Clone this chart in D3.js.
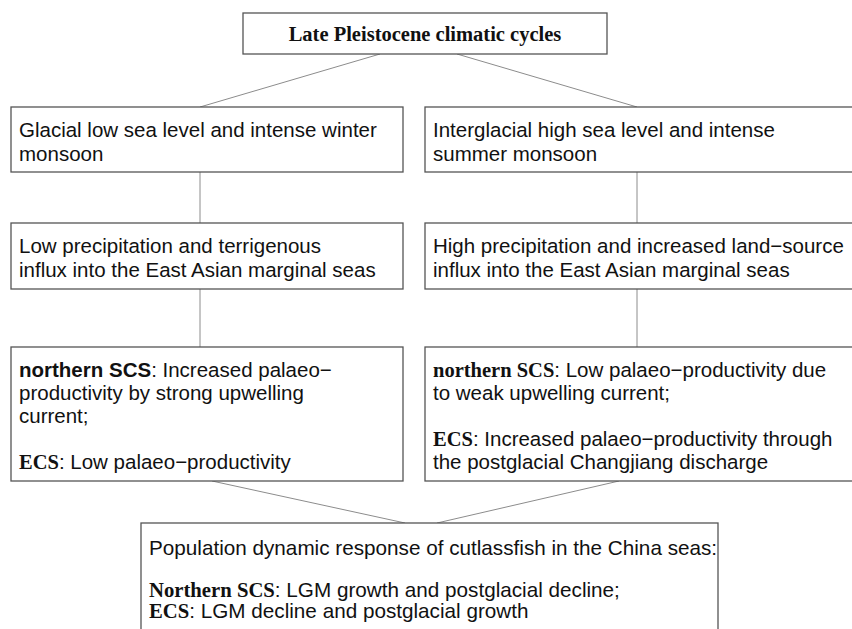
<!DOCTYPE html>
<html>
<head>
  <meta charset="utf-8">
  <script src="https://d3js.org/d3.v7.min.js"></script>
  <style>
    body { margin: 0; background: #fff; }
    .box { fill: #fff; stroke: #555; stroke-width: 1.3px; }
    .link { fill: none; stroke: #8c8c8c; stroke-width: 1px; }
    text { font-family: "Liberation Sans", Arial, sans-serif; font-size: 20.5px; fill: #111; }
    .b-serif { font-family: "Liberation Serif", "Times New Roman", serif; font-weight: bold; }
    .b-sans { font-weight: bold; }
  </style>
</head>
<body>
<div id="chart"></div>
<script>
// boxes of the scheme (** = bold serif, __ = bold sans)
var nodeIds = ["top", "glacial", "interglacial", "lowPrec", "highPrec", "scsLow", "scsHigh", "response"];
var nodeText = [
  ["**Late Pleistocene climatic cycles**"],
  ["Glacial low sea level and intense winter", "monsoon"],
  ["Interglacial high sea level and intense", "summer monsoon"],
  ["Low precipitation and terrigenous", "influx into the East Asian marginal seas"],
  ["High precipitation and increased land\u2212source", "influx into the East Asian marginal seas"],
  ["__northern SCS__: Increased palaeo\u2212", "productivity by strong upwelling", "current;", "", "**ECS**: Low palaeo\u2212productivity"],
  ["**northern SCS**: Low palaeo\u2212productivity due", "to weak upwelling current;", "", "**ECS**: Increased palaeo\u2212productivity through", "the postglacial Changjiang discharge"],
  ["Population dynamic response of cutlassfish in the China seas:", "", "**Northern SCS**: LGM growth and postglacial decline;", "**ECS**: LGM decline and postglacial growth"]
];
var linkSource = ["top", "top", "glacial", "interglacial", "lowPrec", "highPrec", "scsLow", "scsHigh"];
var linkTarget = ["glacial", "interglacial", "lowPrec", "highPrec", "scsLow", "scsHigh", "response", "response"];

// layout
var width = 852, height = 629;
var nodeRow = [0, 1, 1, 2, 2, 3, 3, 4];
var nodeCol = ["title", "left", "right", "left", "right", "left", "right", "bottom"];
var colX = d3.scaleOrdinal().domain(["title", "left", "right", "bottom"])
  .range([[243, 607], [11, 403], [425, 870], [141, 718]]);
var rowY = d3.scaleOrdinal().domain([0, 1, 2, 3, 4])
  .range([[13, 54], [107, 172], [223, 289], [347, 481], [523, 660]]);
var rowBase = d3.scaleOrdinal().domain([0, 1, 2, 3, 4]).range([41, 137, 253, 377, 555]);
var rowLead = d3.scaleOrdinal().domain([0, 1, 2, 3, 4]).range([0, 24, 24, 23, 21]);
// x where each link leaves its source and enters its target
var linkX = [[380, 200], [457, 637], [200, 200], [637, 637], [200, 200], [637, 637], [212, 405], [619, 437]];

var svg = d3.select("#chart").append("svg")
  .attr("width", width).attr("height", height);

var nodes = nodeIds.map(function(id, i) {
  var cx = colX(nodeCol[i]), ry = rowY(nodeRow[i]);
  return { id: id, lines: nodeText[i], row: nodeRow[i], x0: cx[0], x1: cx[1], y0: ry[0], y1: ry[1] };
});
var byId = {};
nodes.forEach(function(d) { byId[d.id] = d; });

svg.selectAll(".link")
  .data(linkSource)
  .enter().append("line")
  .attr("class", "link")
  .attr("x1", function(d, i) { return linkX[i][0]; })
  .attr("y1", function(d) { return byId[d].y1; })
  .attr("x2", function(d, i) { return linkX[i][1]; })
  .attr("y2", function(d, i) { return byId[linkTarget[i]].y0; });

var g = svg.selectAll(".node")
  .data(nodes)
  .enter().append("g")
  .attr("class", "node");

g.append("rect")
  .attr("class", "box")
  .attr("x", function(d) { return d.x0; })
  .attr("y", function(d) { return d.y0; })
  .attr("width", function(d) { return d.x1 - d.x0; })
  .attr("height", function(d) { return d.y1 - d.y0; });

// split a line into plain / bold pieces
function pieces(s) {
  var out = [], re = /(\*\*[^*]+\*\*|__[^_]+__)/g, last = 0, m;
  while ((m = re.exec(s)) !== null) {
    if (m.index > last) out.push({ t: s.slice(last, m.index), c: null });
    out.push({ t: m[0].slice(2, -2), c: m[0][0] === "*" ? "b-serif" : "b-sans" });
    last = re.lastIndex;
  }
  if (last < s.length) out.push({ t: s.slice(last), c: null });
  return out;
}

g.each(function(d) {
  var sel = d3.select(this);
  d.lines.forEach(function(line, k) {
    if (!line) return;
    var t = sel.append("text")
      .attr("y", rowBase(d.row) + k * rowLead(d.row));
    if (d.row === 0) {
      t.attr("x", (d.x0 + d.x1) / 2).attr("text-anchor", "middle").style("font-size", "20.5px");
    } else if (d.row === 4) {
      t.attr("x", d.x0 + 8).style("font-size", "20.7px");
    } else {
      t.attr("x", d.x0 + 8);
    }
    pieces(line).forEach(function(p) {
      t.append("tspan").attr("class", p.c).text(p.t);
    });
  });
});
</script>
</body>
</html>
